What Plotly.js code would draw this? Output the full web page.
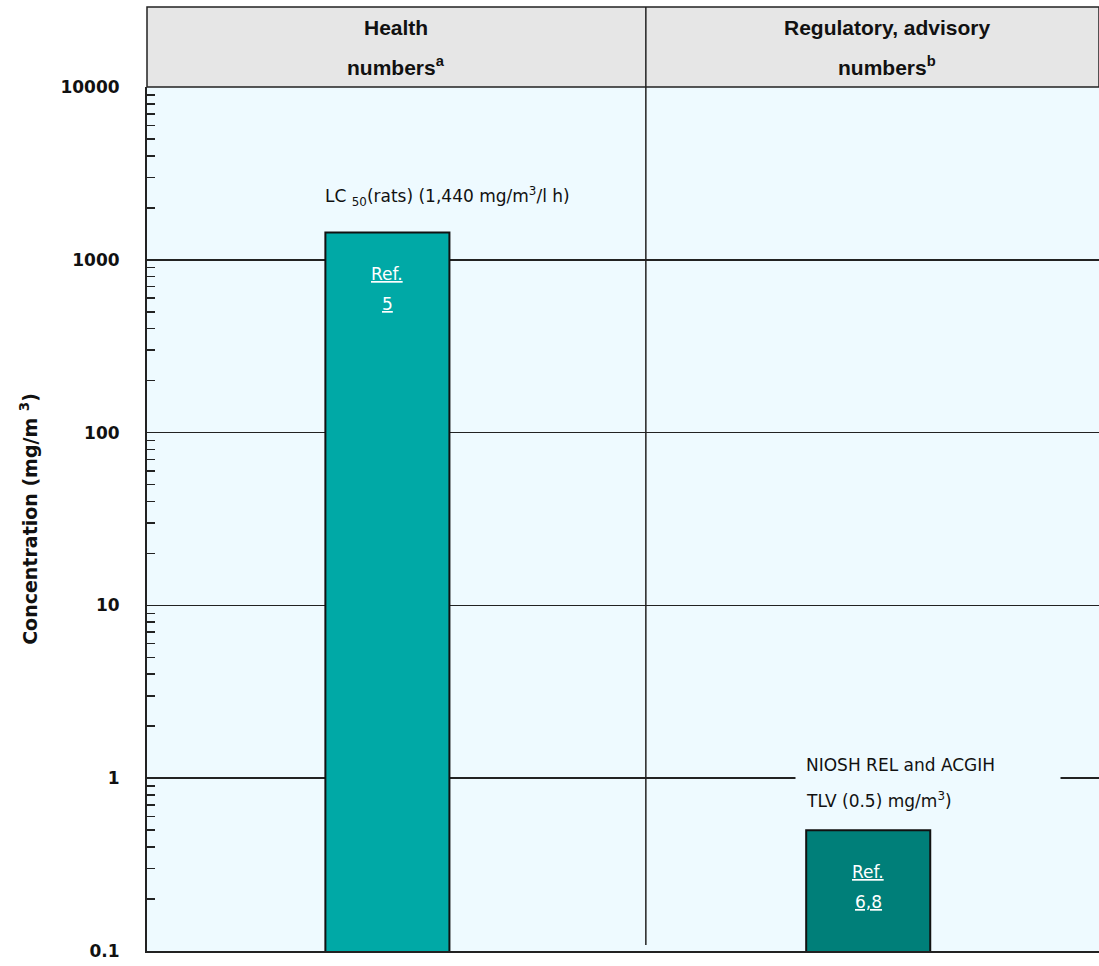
<!DOCTYPE html>
<html>
<head>
<meta charset="utf-8">
<script src="https://cdn.plot.ly/plotly-3.0.1.min.js"></script>
<style>html,body{margin:0;padding:0;background:#fff;}#chart{width:1099px;height:966px;}</style>
</head>
<body>
<div id="chart"></div>
<script>
// ---- data ----
const categories = ['Health numbers', 'Regulatory, advisory numbers'];
const values = [1440, 0.5];
const barColors = ['#00a9a6', '#007f79'];
const refLines1 = ['Ref.', 'Ref.'];
const refLines2 = ['5', '6,8'];
const headerLine1 = ['Health', 'Regulatory, advisory'];
const headerLine2 = ['numbers<sup>a</sup>', 'numbers<sup>b</sup>'];
const tickVals = [0.1, 1, 10, 100, 1000, 10000];
const tickText = ['0.1', '1', '10', '100', '1000', '10000'];
const labelLC = 'LC <sub>50</sub>(rats) (1,440 mg/m<sup>3</sup>/l h)';
const labelNiosh1 = 'NIOSH REL and ACGIH';
const labelNiosh2 = 'TLV (0.5) mg/m<sup>3</sup>)';

const plotBg = '#eefaff';
const txtFont = {family: 'DejaVu Sans, Verdana, sans-serif', size: 17, color: '#111'};
const headFont = {family: 'Liberation Sans, Arial, sans-serif', size: 21, color: '#111', weight: 'bold'};

const trace = {
  type: 'bar',
  x: categories,
  y: values,
  width: 0.258,
  marker: {color: barColors, line: {color: '#111', width: 2}},
  hoverinfo: 'x+y'
};

const annotations = [];
// bar labels inside
categories.forEach((c, i) => {
  const ly = Math.log10(values[i]);
  annotations.push({x: c, y: ly, xref: 'x', yref: 'y', text: '<u>' + refLines1[i] + '</u>',
    showarrow: false, xanchor: 'center', yanchor: 'middle', yshift: -42, font: {family: 'DejaVu Sans, Verdana, sans-serif', size: 17, color: '#fff'}});
  annotations.push({x: c, y: ly, xref: 'x', yref: 'y', text: '<u>' + refLines2[i] + '</u>',
    showarrow: false, xanchor: 'center', yanchor: 'middle', yshift: -72, font: {family: 'DejaVu Sans, Verdana, sans-serif', size: 17, color: '#fff'}});
});
// value labels above
annotations.push({x: categories[0], y: Math.log10(values[0]), xref: 'x', yref: 'y', text: labelLC,
  showarrow: false, xanchor: 'center', yanchor: 'middle', xshift: 60, yshift: 36, font: txtFont});
// mask box hiding the grid line behind the NIOSH label
annotations.push({x: categories[1], y: Math.log10(values[1]), xref: 'x', yref: 'y', text: ' ',
  showarrow: false, xanchor: 'left', yanchor: 'middle', width: 262, height: 30,
  bgcolor: plotBg, xshift: -73, yshift: 62, font: txtFont});
annotations.push({x: categories[1], y: Math.log10(values[1]), xref: 'x', yref: 'y', text: labelNiosh1,
  showarrow: false, xanchor: 'left', yanchor: 'middle', align: 'left', xshift: -64, yshift: 65, font: txtFont});
annotations.push({x: categories[1], y: Math.log10(values[1]), xref: 'x', yref: 'y', text: labelNiosh2,
  showarrow: false, xanchor: 'left', yanchor: 'middle', align: 'left', xshift: -64, yshift: 30, font: txtFont});
// header
const headerX = [0.262, 0.777];
const plotH = 864;
headerX.forEach((hx, i) => {
  annotations.push({x: hx, y: (951 - 27) / plotH, xref: 'paper', yref: 'paper', text: headerLine1[i],
    showarrow: false, xanchor: 'center', yanchor: 'middle', font: headFont});
  annotations.push({x: hx, y: (951 - 66) / plotH, xref: 'paper', yref: 'paper', text: headerLine2[i],
    showarrow: false, xanchor: 'center', yanchor: 'middle', font: headFont});
});

const headerTop = 1 + 80 / plotH;
const shapes = [
  {type: 'rect', xref: 'paper', yref: 'paper', x0: 0, x1: 1, y0: 1, y1: headerTop,
   fillcolor: '#e6e6e6', line: {color: '#222', width: 1.5}, layer: 'below'},
  {type: 'line', xref: 'paper', yref: 'paper', x0: 0.524, x1: 0.524, y0: 0.007, y1: headerTop,
   line: {color: '#222', width: 1.5}}
];

const layout = {
  width: 1099, height: 966,
  margin: {l: 147, r: 0, t: 87, b: 15},
  paper_bgcolor: '#ffffff',
  plot_bgcolor: plotBg,
  showlegend: false,
  bargap: 0,
  xaxis: {type: 'category', range: [-0.5, 1.48], showticklabels: false, ticks: '',
    showgrid: false, showline: true, linecolor: '#222', linewidth: 2, zeroline: false, fixedrange: true},
  yaxis: {type: 'log', range: [-1, 4], tickvals: tickVals, ticktext: tickText,
    tickfont: {family: 'DejaVu Sans, Verdana, sans-serif', size: 17, color: '#111', weight: 'bold'},
    ticks: 'inside', ticklen: 8, tickcolor: '#222', tickwidth: 1.5,
    ticklabelstandoff: 22,
    showgrid: true, gridcolor: '#222', gridwidth: 1.6,
    showline: true, linecolor: '#222', linewidth: 2, zeroline: false,
    minor: {ticks: 'inside', ticklen: 8, tickcolor: '#222', tickwidth: 1.5, dtick: 'D1', showgrid: false},
    title: {text: 'Concentration (mg/m <sup>3</sup>)', standoff: 18,
      font: {family: 'DejaVu Sans, Verdana, sans-serif', size: 19, color: '#111', weight: 'bold'}}
  },
  annotations: annotations,
  shapes: shapes
};

Plotly.newPlot('chart', [trace], layout, {displayModeBar: false, staticPlot: true});
</script>
</body>
</html>
